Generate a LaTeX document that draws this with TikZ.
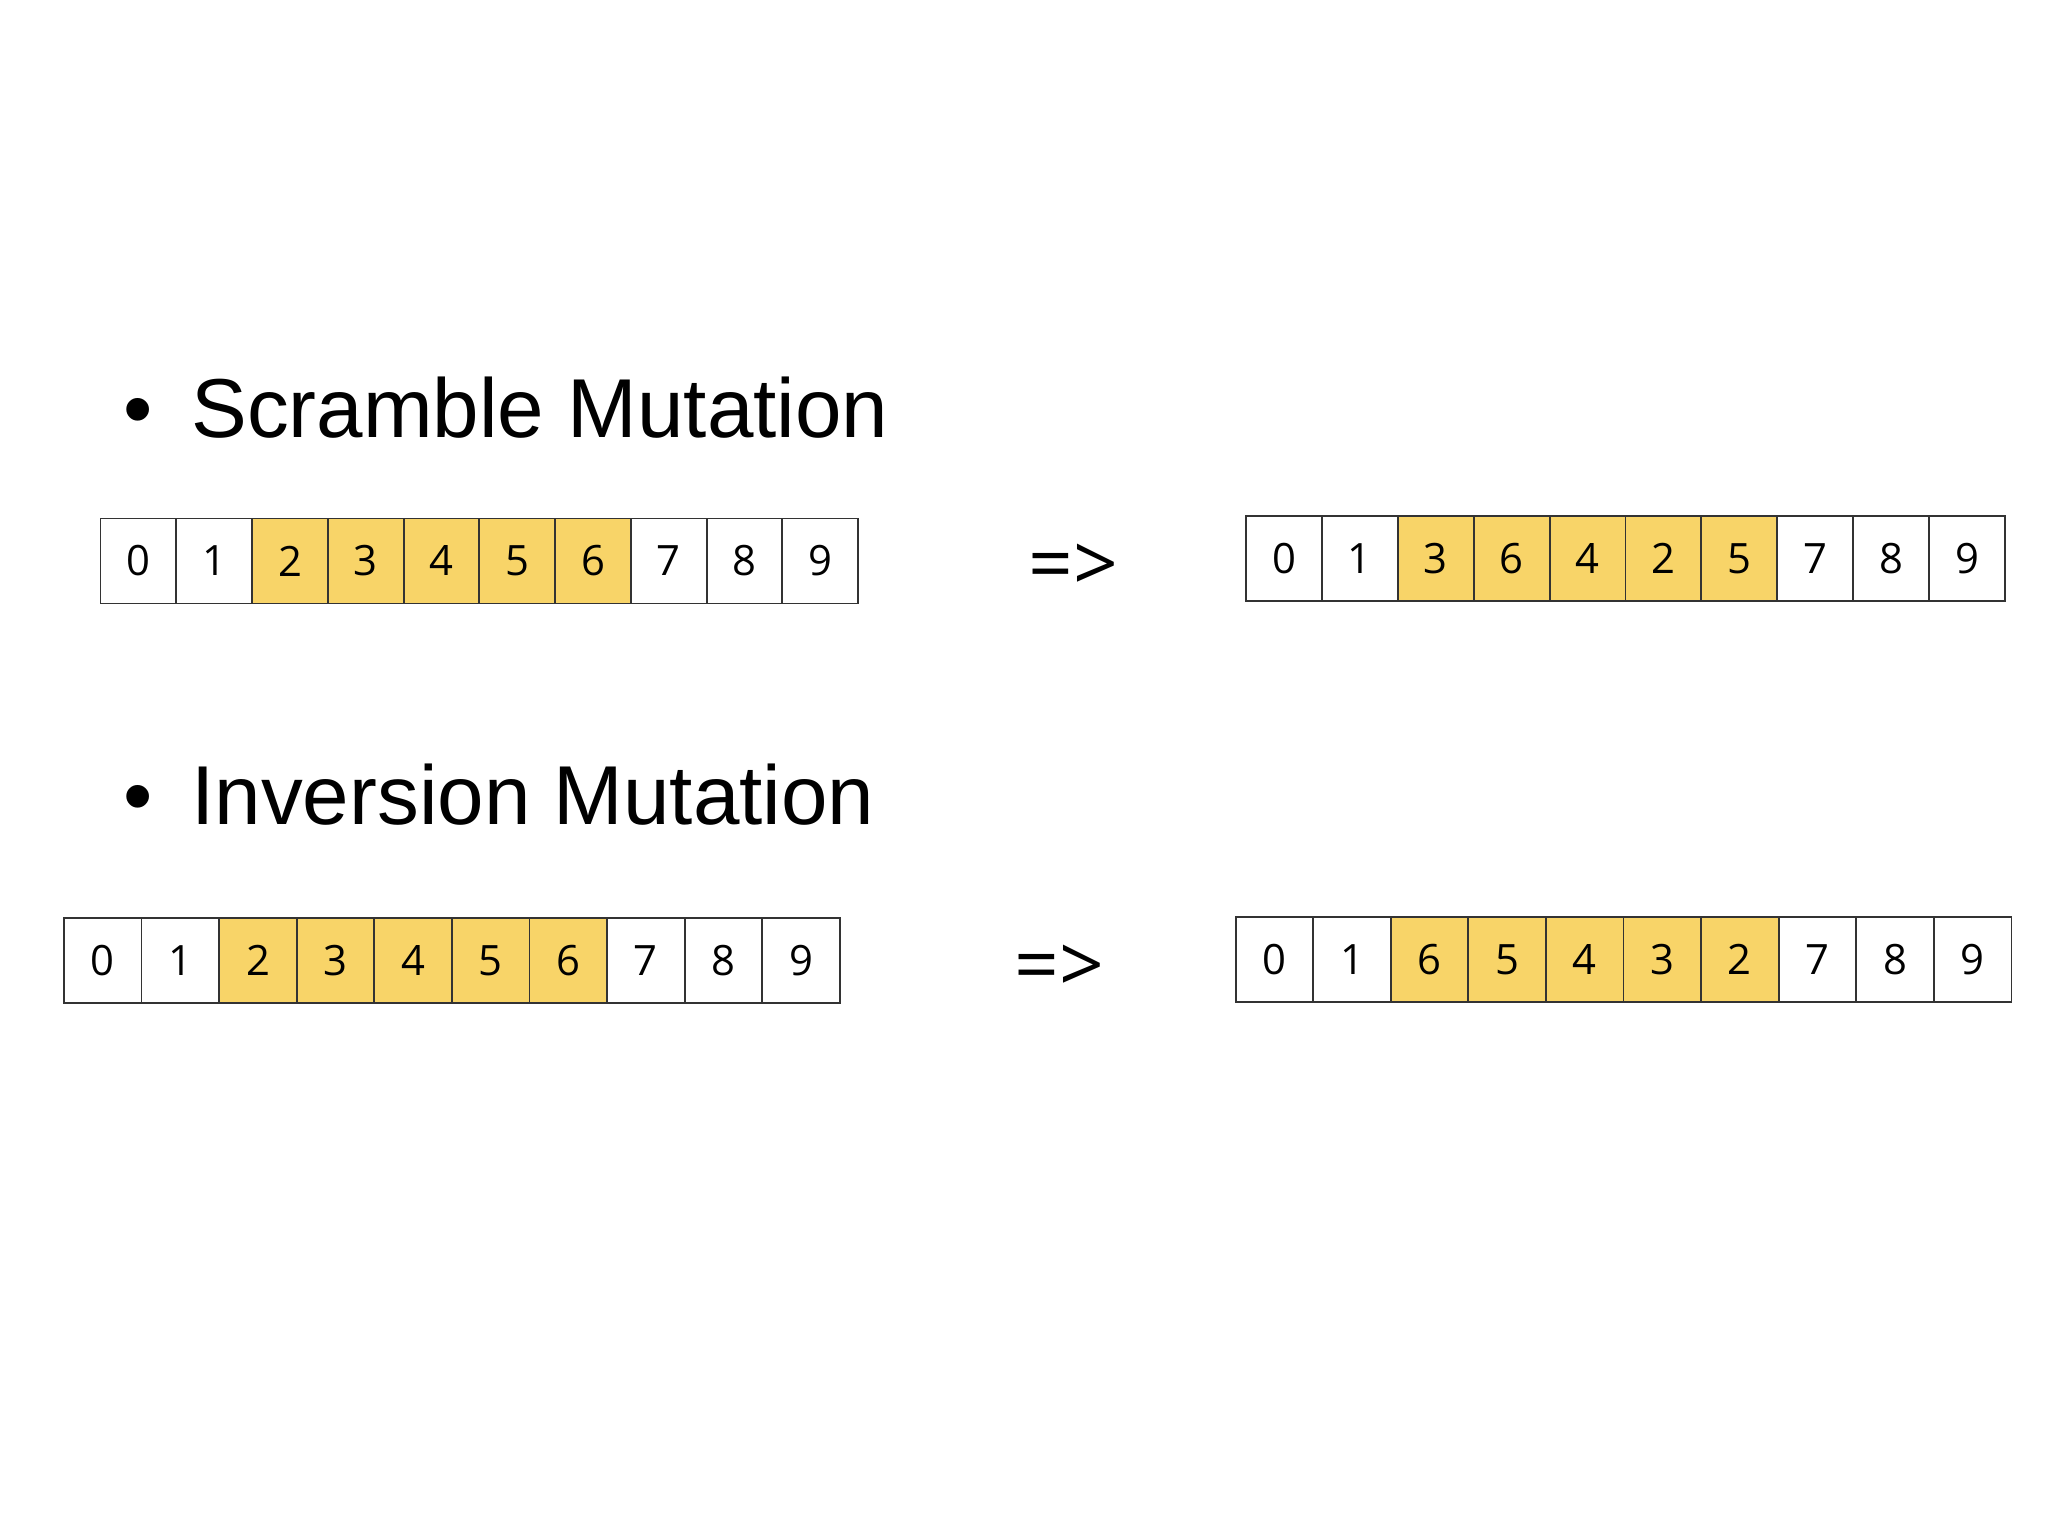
\documentclass[tikz,border=0pt]{standalone}
\usepackage{fontspec}
\setmainfont{Liberation Sans}
\newfontfamily\cellfont{Open Sans}
\definecolor{hl}{HTML}{F8D468}
\tikzset{x=1pt,y=-1pt,
 cellbox/.style={draw=black!80,line width=1.4pt,minimum height=65pt,inner sep=0pt,font=\cellfont\fontsize{32}{32}\selectfont},
 title/.style={anchor=west,font=\fontsize{64}{64}\selectfont,inner sep=0pt},
 arr/.style={font=\cellfont\fontsize{60}{60}\selectfont,inner sep=0pt}}
\newcommand\cellrow[5]{% prefix, x0, y0, width, list
 \foreach \d [count=\i from 0] in {#5} {
  \pgfmathsetmacro\xx{#2+(\i+0.5)*#4}
  \ifnum\i>1 \ifnum\i<7 \def\fc{hl}\else\def\fc{white}\fi\else\def\fc{white}\fi
  \node[cellbox,fill=\fc,minimum width=#4 pt] (#1\i) at (\xx,#3) {\d};
 }}
\begin{document}
\begin{tikzpicture}
\useasboundingbox (0,0) rectangle (1568,1176);
\fill[white] (0,0) rectangle (1568,1176);
\node[title] (t1) at (94,312) {\textbullet\hspace{30pt}Scramble Mutation};
\node[title] (t2) at (94,608) {\textbullet\hspace{30pt}Inversion Mutation};
\cellrow{a}{77}{429.5}{58}{0,1,2,3,4,5,6,7,8,9}
\cellrow{b}{954}{427.5}{58.1}{0,1,3,6,4,2,5,7,8,9}
\cellrow{c}{49}{735.5}{59.4}{0,1,2,3,4,5,6,7,8,9}
\cellrow{d}{946}{734.5}{59.4}{0,1,6,5,4,3,2,7,8,9}
\node[arr] (r1) at (822,435) {=>};
\node[arr] (r2) at (811,742) {=>};
\end{tikzpicture}
\end{document}
